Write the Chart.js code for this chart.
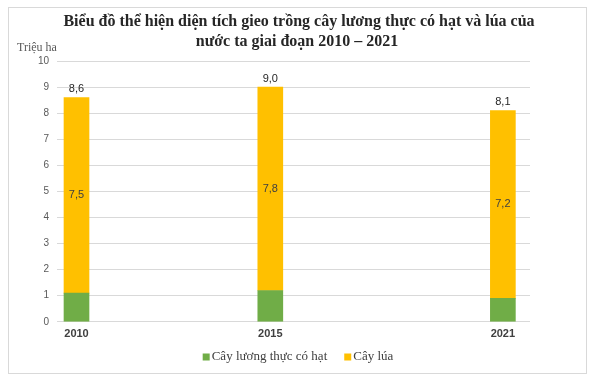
<!DOCTYPE html>
<html>
<head>
<meta charset="utf-8">
<script src="https://cdn.jsdelivr.net/npm/chart.js@4/dist/chart.umd.min.js"></script>
<style>
  html, body { margin: 0; padding: 0; background: #fff; }
  #wrap { position: relative; width: 593px; height: 378px; }
  #frame { position: absolute; left: 8px; top: 7px; width: 577px; height: 365px; border: 1px solid #d9d9d9; }
  canvas { position: absolute; left: 0; top: 0; }
</style>
</head>
<body>
<div id="wrap">
  <div id="frame"></div>
  <canvas id="chart" width="593" height="378"></canvas>
</div>
<script>
// Dữ liệu (triệu ha)
const years = [2010, 2015, 2021];
const totalCereal = [8.6, 9.0, 8.1];   // cây lương thực có hạt
const rice = [7.5, 7.8, 7.2];          // cây lúa
const otherCereal = [1.1, 1.2, 0.9];   // phần còn lại (màu xanh)
const yTicks = [0, 1, 2, 3, 4, 5, 6, 7, 8, 9, 10];
const titleLines = ['Biểu đồ thể hiện diện tích gieo trồng cây lương thực có hạt và lúa của', 'nước ta giai đoạn 2010 – 2021'];

const fmt = v => v.toFixed(1).replace('.', ',');
const serif = '"Liberation Serif", "Times New Roman", serif';
const sans = '"Liberation Sans", Arial, sans-serif';

// Vẽ tiêu đề, chú giải, nhãn số liệu và đơn vị trục
const labelPlugin = {
    id: 'labels',
    afterDatasetsDraw(chart) {
        const c = chart.ctx;
        const x = chart.scales.x, y = chart.scales.y;
        c.save();
        c.font = '11px ' + sans;
        c.textAlign = 'center';
        years.forEach((yr, i) => {
            const px = x.getPixelForValue(yr);
            c.fillStyle = '#404040';
            c.textBaseline = 'middle';
            c.fillText(fmt(rice[i]), px, y.getPixelForValue(otherCereal[i] + rice[i] / 2));
            c.fillStyle = '#262626';
            c.textBaseline = 'bottom';
            c.fillText(fmt(totalCereal[i]), px, y.getPixelForValue(totalCereal[i]) - 3);
        });
        // tiêu đề
        c.font = 'bold 16px ' + serif;
        c.fillStyle = '#262626';
        c.textBaseline = 'middle';
        c.fillText(titleLines[0], 299, 22);
        c.fillText(titleLines[1], 297, 42);
        // đơn vị
        c.font = '12px ' + serif;
        c.fillStyle = '#595959';
        c.textAlign = 'left';
        c.textBaseline = 'alphabetic';
        c.fillText('Triệu ha', 17, 51);
        // chú giải
        c.font = '13px ' + serif;
        c.textBaseline = 'middle';
        const items = chart.data.datasets.map(d => ({ text: d.label, color: d.backgroundColor }));
        const box = 7, gap = 2, sep = 17;
        const widths = items.map(it => box + gap + c.measureText(it.text).width);
        const total = widths.reduce((a, b) => a + b, 0) + sep * (items.length - 1);
        let lx = 298 - total / 2;
        const ly = 357;
        items.forEach((it, i) => {
            c.fillStyle = it.color;
            c.fillRect(lx, ly - box / 2, box, box);
            c.fillStyle = '#404040';
            c.fillText(it.text, lx + box + gap, ly);
            lx += widths[i] + sep;
        });
        c.restore();
    }
};

new Chart(document.getElementById('chart'), {
    type: 'bar',
    data: {
        datasets: [{
            label: 'Cây lương thực có hạt',
            data: years.map((yr, i) => ({ x: yr, y: otherCereal[i] })),
            backgroundColor: '#70ad47',
            barThickness: 25
        }, {
            label: 'Cây lúa',
            data: years.map((yr, i) => ({ x: yr, y: rice[i] })),
            backgroundColor: '#ffc000',
            barThickness: 25
        }]
    },
    options: {
        responsive: false,
        animation: false,
        layout: { padding: { left: 30, right: 63, top: 61, bottom: 31 } },
        plugins: {
            legend: { display: false },
            tooltip: { enabled: false }
        },
        scales: {
            x: {
                type: 'linear',
                stacked: true,
                offset: false,
                min: 2009.5,
                max: 2021.7,
                afterBuildTicks: s => { s.ticks = years.map(v => ({ value: v })); },
                grid: { display: false, drawTicks: false },
                border: { display: false },
                ticks: {
                    callback: v => String(v),
                    color: '#404040',
                    font: { family: sans, size: 11, weight: 'bold' },
                    padding: 6,
                    maxRotation: 0,
                    autoSkip: false
                }
            },
            y: {
                stacked: true,
                min: 0,
                max: 10,
                afterBuildTicks: s => { s.ticks = yTicks.map(v => ({ value: v })); },
                grid: { color: '#d9d9d9', drawTicks: false },
                border: { display: false },
                ticks: {
                    color: '#595959',
                    font: { family: sans, size: 10 },
                    padding: 8
                }
            }
        }
    },
    plugins: [labelPlugin]
});
</script>
</body>
</html>
